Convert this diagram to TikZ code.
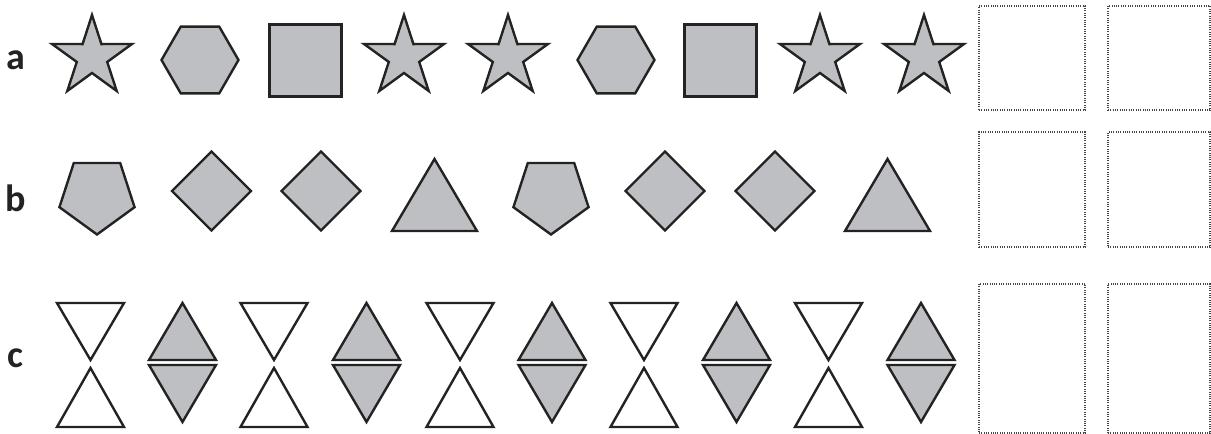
\documentclass[tikz,border=0pt]{standalone}
\usepackage{fontspec}
\setmainfont{Carlito}
\definecolor{shapegray}{RGB}{190,191,195}
\definecolor{edgedark}{RGB}{35,35,35}
\definecolor{dotgray}{RGB}{70,70,70}
\begin{document}
\begin{tikzpicture}[x=1pt,y=1pt,
  shp/.style={draw=edgedark,fill=shapegray,line width=2.4pt},
  hollow/.style={draw=edgedark,fill=white,line width=2.4pt},
  sq/.style={draw=edgedark,fill=shapegray,line width=3pt},
  answerbox/.style={draw=dotgray,line width=1.3pt,dash pattern=on 0.9pt off 1.4pt,inner sep=0pt,outer sep=0pt},
  rowlabel/.style={font=\bfseries\fontsize{38}{40}\selectfont,text=edgedark,inner sep=0pt,anchor=base},
  starpic/.pic={\draw[shp] (90:42)--(126:16)--(162:42)--(198:16)--(234:42)--(270:16)--(306:42)--(342:16)--(18:42)--(54:16)--cycle;},
  hexpic/.pic={\draw[shp] (0:38.5)--(60:38.5)--(120:38.5)--(180:38.5)--(240:38.5)--(300:38.5)--cycle;},
  sqpic/.pic={\draw[sq] (-36,-36) rectangle (36,36);},
  pentpic/.pic={\draw[shp] (-90:39.5)--(-18:39.5)--(54:39.5)--(126:39.5)--(198:39.5)--cycle;},
  diapic/.pic={\draw[shp] (0,39.5)--(39.5,0)--(0,-39.5)--(-39.5,0)--cycle;},
  tripic/.pic={\draw[shp] (-42.5,0)--(42.5,0)--(0,72)--cycle;},
  hourpic/.pic={\draw[hollow] (-33.5,61)--(33.5,61)--(0,4)--cycle;
                \draw[hollow] (0,-4)--(33.5,-63)--(-33.5,-63)--cycle;},
  bipic/.pic={\draw[shp] (-33.5,4)--(33.5,4)--(0,61)--cycle;
              \draw[shp] (-33.5,-1)--(33.5,-1)--(0,-58)--cycle;}
]
\useasboundingbox (0,0) rectangle (1211,434);
% labels
\node[rowlabel] (la) at (16,364) {a};
\node[rowlabel] (lb) at (16,222) {b};
\node[rowlabel] (lc) at (15,66) {c};
% row a
\pic at (92,377) {starpic};
\pic at (200,374) {hexpic};
\pic at (305,373) {sqpic};
\pic at (404,377) {starpic};
\pic at (508,377) {starpic};
\pic at (616,374) {hexpic};
\pic at (720,373) {sqpic};
\pic at (820,377) {starpic};
\pic at (924,377) {starpic};
% row b
\pic at (97,239) {pentpic};
\pic at (211.5,243) {diapic};
\pic at (321,243) {diapic};
\pic at (434.5,203) {tripic};
\pic at (551,239) {pentpic};
\pic at (665,243) {diapic};
\pic at (775,243) {diapic};
\pic at (887.5,203) {tripic};
% row c
\pic at (90.5,70) {hourpic};
\pic at (182.5,70) {bipic};
\pic at (274,70) {hourpic};
\pic at (366.5,70) {bipic};
\pic at (460,70) {hourpic};
\pic at (552,70) {bipic};
\pic at (644,70) {hourpic};
\pic at (736.5,70) {bipic};
\pic at (828.5,70) {hourpic};
\pic at (921,70) {bipic};
% answer boxes
\node[answerbox,minimum width=106pt,minimum height=104pt] (ba1) at (1032,376) {};
\node[answerbox,minimum width=102pt,minimum height=104pt] (ba2) at (1159,376) {};
\node[answerbox,minimum width=106pt,minimum height=115pt] (bb1) at (1032,244.5) {};
\node[answerbox,minimum width=102pt,minimum height=115pt] (bb2) at (1159,244.5) {};
\node[answerbox,minimum width=106pt,minimum height=149pt] (bc1) at (1032,75.5) {};
\node[answerbox,minimum width=102pt,minimum height=149pt] (bc2) at (1159,75.5) {};
\end{tikzpicture}
\end{document}
